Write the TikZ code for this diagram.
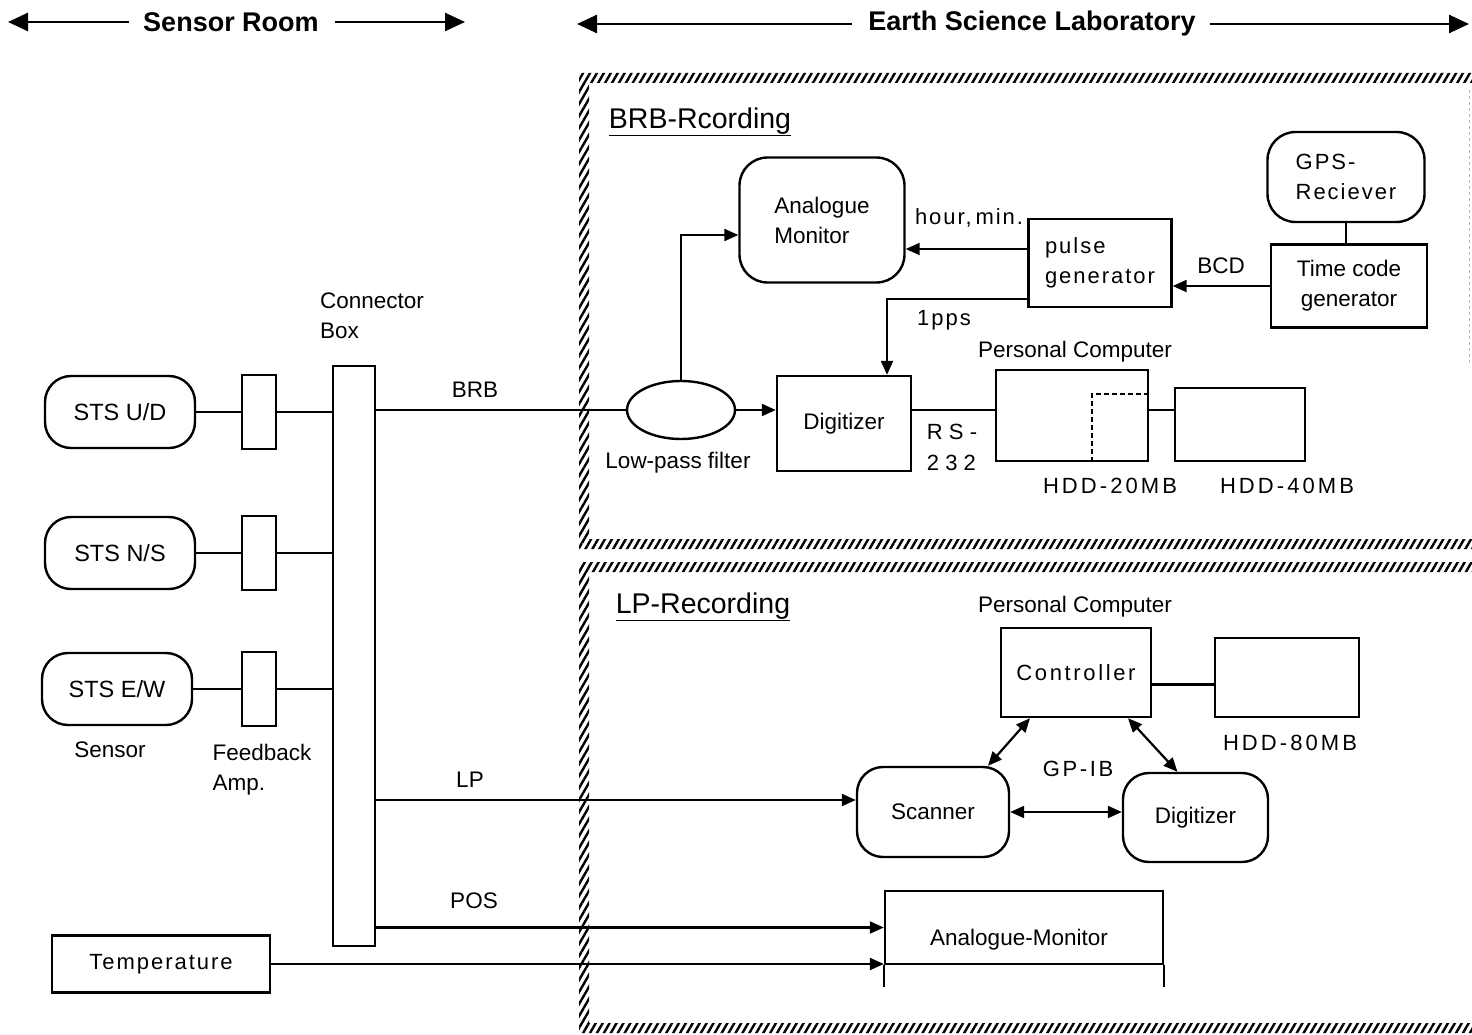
\documentclass[tikz,border=0pt]{standalone}
\usepackage{fontspec}
\setmainfont{Liberation Sans}
\newfontfamily\spf[LetterSpace=9]{Liberation Sans}
\newfontfamily\spw[LetterSpace=28]{Liberation Sans}
\usetikzlibrary{arrows.meta,shapes.geometric,patterns.meta}
\begin{document}
\begin{tikzpicture}[x=1pt,y=-1pt,
  every node/.style={font=\fontsize{22.5}{30}\selectfont, inner sep=0pt},
  sp/.style={font=\spf\fontsize{22}{30}\selectfont},
  spw/.style={font=\spw\fontsize{22}{31}\selectfont},
  hdr/.style={font=\bfseries\fontsize{27}{30}\selectfont},
  rbox/.style={draw, line width=2.4pt, rounded corners=26pt},
  sbox/.style={draw, line width=2.4pt},
  ln/.style={line width=2.2pt},
  arr/.style={line width=2.2pt, -{Triangle[length=14pt,width=12pt]}},
  darr/.style={line width=2.2pt, {Triangle[length=14pt,width=12pt]}-{Triangle[length=14pt,width=12pt]}},
  big/.style={line width=2.6pt, -{Triangle[length=20pt,width=18pt]}},
  hatch/.style={pattern={Lines[angle=60,distance=6pt,line width=2.4pt]}, even odd rule}
]
\useasboundingbox (0,0) rectangle (1472,1035);

% ---------- header ----------
\node[hdr] (sr) at (231,22) {Sensor Room};
\node[hdr] (es) at (1032,24) {Earth Science Laboratory};
\coordinate (srL) at (8,22);
\coordinate (srR) at (465,22);
\coordinate (esL) at (577,24);
\coordinate (esR) at (1469,24);
\draw[big] ([xshift=-14pt]sr.west) -- (srL);
\draw[big] ([xshift=16pt]sr.east) -- (srR);
\draw[big] ([xshift=-16pt]es.west) -- (esL);
\draw[big] ([xshift=14pt]es.east) -- (esR);

% ---------- hatched frames ----------
\fill[hatch] (579,73) rectangle (1480,549) (589,83) rectangle (1480,539);
\fill[hatch] (579,562) rectangle (1480,1033) (589,572) rectangle (1480,1023);
\draw[gray!55, dashed, line width=0.8pt] (1469,90) -- (1469,365);

% ---------- sensor room ----------
\node[rbox, minimum width=150pt, minimum height=72pt, font=\fontsize{23.5}{30}\selectfont] (ud) at (120,412) {STS U/D};
\node[rbox, minimum width=150pt, minimum height=72pt, font=\fontsize{23.5}{30}\selectfont] (ns) at (120,553) {STS N/S};
\node[rbox, minimum width=150pt, minimum height=72pt, font=\fontsize{23.5}{30}\selectfont] (ew) at (117,689) {STS E/W};
\node[sbox, minimum width=34pt, minimum height=74pt] (a1) at (259,412) {};
\node[sbox, minimum width=34pt, minimum height=74pt] (a2) at (259,553) {};
\node[sbox, minimum width=34pt, minimum height=74pt] (a3) at (259,689) {};
\node[sbox, minimum width=42pt, minimum height=580pt] (cb) at (354,656) {};
\draw[ln] (ud.east) -- (a1.west);
\draw[ln] (a1.east) -- (cb.west |- a1.east);
\draw[ln] (ns.east) -- (a2.west);
\draw[ln] (a2.east) -- (cb.west |- a2.east);
\draw[ln] (ew.east) -- (a3.west);
\draw[ln] (a3.east) -- (cb.west |- a3.east);
\node[align=left] (cbl) at (372,316) {Connector\\Box};
\node (sensl) at (110,750) {Sensor};
\node[align=left] (fbl) at (262,770) {Feedback\\Amp.};
\node[sp, minimum width=218pt, minimum height=57pt, draw, line width=2.4pt] (temp) at (161,964) {Temperature};

% ---------- BRB recording ----------
\node (brbt) at (700,122) {\fontsize{28.5}{30}\selectfont\underline{BRB-Rcording}};
\node[rbox, rounded corners=28pt, minimum width=165pt, minimum height=125pt, align=left] (am) at (822,220) {Analogue\\Monitor};
\node[sbox, sp, minimum width=143pt, minimum height=88pt, align=left] (pg) at (1100,263) {pulse\\generator};
\node[rbox, sp, rounded corners=28pt, minimum width=157pt, minimum height=90pt, align=left] (gps) at (1346,177) {GPS-\\Reciever};
\node[sbox, minimum width=156pt, minimum height=83pt, align=center] (tc) at (1349,286) {Time code\\generator};
\node[ellipse, draw, line width=2.4pt, minimum width=108pt, minimum height=58pt] (lpf) at (681,410) {};
\node[sbox, minimum width=134pt, minimum height=95pt] (dig) at (844,423.5) {Digitizer};
\node[sbox, minimum width=152pt, minimum height=91pt] (pc) at (1072,415.5) {};
\node[sbox, minimum width=130pt, minimum height=73pt] (hdd40) at (1240,424.5) {};

\draw[ln] (cb.east |- lpf.west) -- (lpf.west);
\draw[arr] (lpf.east) -- (lpf.east -| dig.west);
\draw[arr] (lpf.north) |- ([yshift=-15pt]am.west);
\draw[arr] ([yshift=14pt]pg.west) -- ([yshift=14pt]pg.west -| am.east);
\draw[arr] ([yshift=-36pt]pg.west) -| ([xshift=43pt]dig.north);
\draw[arr] (tc.west) -- (tc.west -| pg.east);
\draw[ln] (gps.south) -- (gps.south |- tc.north);
\draw[ln] (dig.east |- lpf.east) -- (pc.west |- lpf.east);
\draw[ln] (pc.east |- lpf.east) -- (hdd40.west |- lpf.east);
\draw[line width=1.6pt, dash pattern=on 5pt off 3pt] ([xshift=20pt]pc.south) |- ([yshift=-25pt]pc.north east);

\node (brbl) at (475,390) {BRB};
\node (lpfl) at (678,463) {Low-pass filter};
\node[sp] (hml) at (969,218) {hour,\,min.};
\node (bcdl) at (1221,266) {BCD};
\node[sp] (ppsl) at (944,320) {1pps};
\node[spw, align=left] (rsl) at (952,447) {RS-\\232};
\node (pcl1) at (1075,352) {Personal Computer};
\node[font=\fontsize{22}{30}\selectfont\addfontfeature{LetterSpace=14}] (h20l) at (1110,486) {HDD-20MB};
\node[font=\fontsize{22}{30}\selectfont\addfontfeature{LetterSpace=14}] (h40l) at (1287,486) {HDD-40MB};

% ---------- LP recording ----------
\node (lpt) at (703,607) {\fontsize{28.5}{30}\selectfont\underline{LP-Recording}};
\node (pcl2) at (1075,607) {Personal Computer};
\node[sbox, minimum width=150pt, minimum height=89pt, font=\fontsize{22}{30}\selectfont\addfontfeature{LetterSpace=12}] (ctrl) at (1076,672.5) {Controller};
\node[sbox, minimum width=144pt, minimum height=79pt] (hdd80) at (1287,677.5) {};
\node[font=\fontsize{22}{30}\selectfont\addfontfeature{LetterSpace=14}] (h80l) at (1290,743) {HDD-80MB};
\node[rbox, minimum width=152pt, minimum height=90pt] (scan) at (933,812) {Scanner};
\node[rbox, minimum width=145pt, minimum height=89pt] (dig2) at (1195.5,817.5) {Digitizer};
\node[font=\fontsize{22}{30}\selectfont\addfontfeature{LetterSpace=12}] (gpib) at (1078,769) {GP-IB};
\node[sbox, minimum width=278pt, minimum height=73pt] (am2) at (1024,927.5) {};
\node (am2t) at (1019,940) {Analogue-Monitor};

\draw[ln] ([yshift=-12pt]ctrl.east) -- ([yshift=-12pt]ctrl.east -| hdd80.west);
\draw[darr] ([xshift=-46pt]ctrl.south) -- ([xshift=55pt]scan.north);
\draw[darr] ([xshift=52pt]ctrl.south) -- ([xshift=-18pt]dig2.north);
\draw[darr] (scan.east) -- (scan.east -| dig2.west);
\coordinate (lpin) at ([yshift=12pt]scan.west);
\draw[arr] (cb.east |- lpin) -- (lpin);
\draw[arr] (cb.east |- am2.west) -- (am2.west);
\draw[arr] (temp.east) -- (temp.east -| am2.west);
\draw[line width=2.4pt] (am2.south west) -- ++(0,22);
\draw[line width=2.4pt] (am2.south east) -- ++(0,22);
\node (lpl) at (470,780) {LP};
\node (posl) at (474,901) {POS};
\end{tikzpicture}
\end{document}
